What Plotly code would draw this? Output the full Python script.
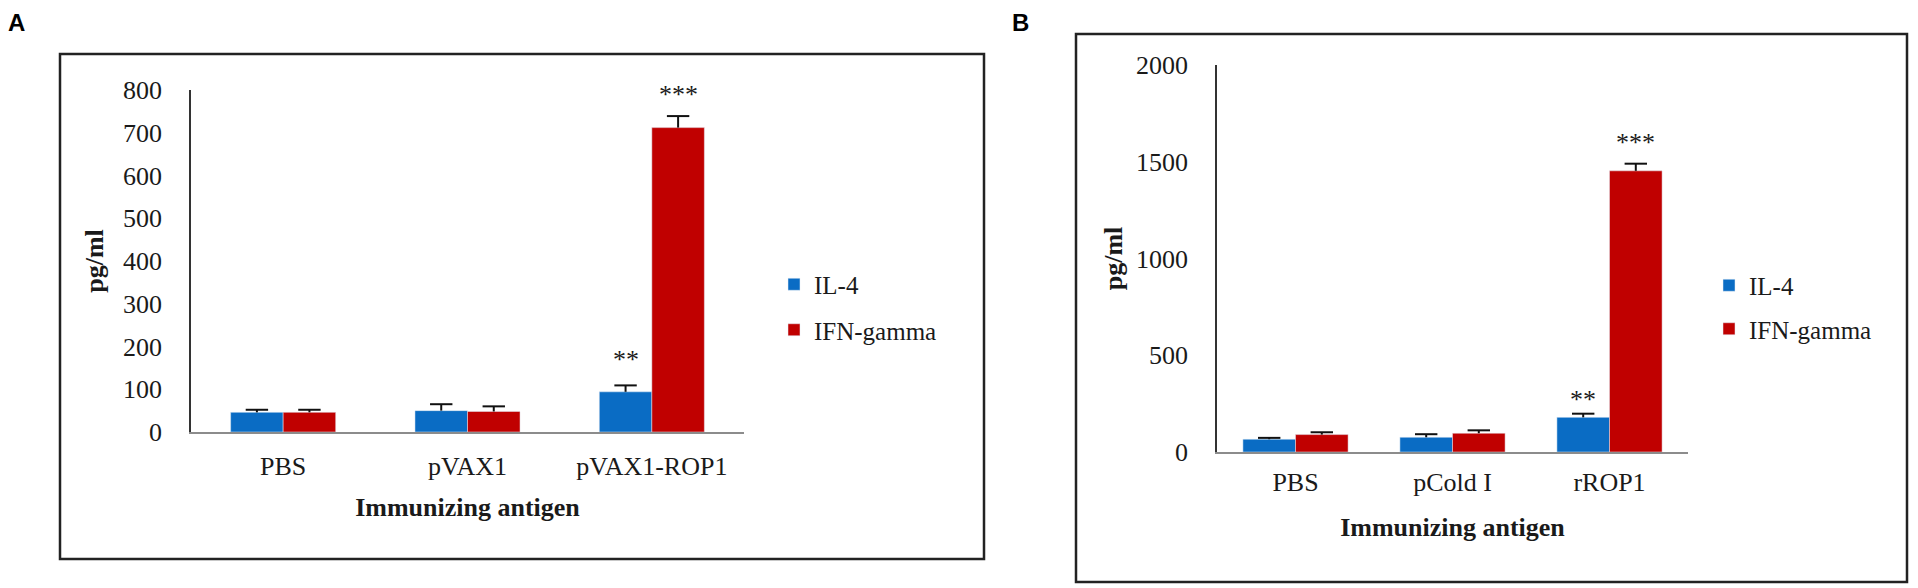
import plotly.graph_objects as go

W, H = 1918, 588
OFF = 8  # page margin of the browser around the figure

# panel A data (DNA vaccine)
cats_a = ['PBS', 'pVAX1', 'pVAX1-ROP1']
il4_a = [46, 50, 94]
il4_a_err = [6, 15, 15]
ifn_a = [46, 48, 712]
ifn_a_err = [6, 12, 27]
stars_a = ['', '', '**']
stars_a_ifn = ['', '', '***']

# panel B data (recombinant protein)
cats_b = ['PBS', 'pCold I', 'rROP1']
il4_b = [66, 76, 179]
il4_b_err = [7, 16, 19]
ifn_b = [90, 97, 1453]
ifn_b_err = [12, 15, 37]
stars_b = ['', '', '**']
stars_b_ifn = ['', '', '***']

blue = '#0a6cc4'
red = '#c00000'
serif = 'Liberation Serif'
txt = '#1a1a1a'


def px(x):
    return (x - OFF) / W


def py(y):
    return 1 - (y - OFF) / H


fig = go.Figure()

# bar widths per panel (fraction of category slot)
w_a = 0.285
w_b = 0.335

panels = [
    (cats_a, il4_a, il4_a_err, ifn_a, ifn_a_err, w_a, 'x', 'y', 'legend'),
    (cats_b, il4_b, il4_b_err, ifn_b, ifn_b_err, w_b, 'x2', 'y2', 'legend2'),
]
for cats, il4, il4e, ifn, ifne, w, xa, ya, lg in panels:
    pos = list(range(len(cats)))
    for vals, errs, name, col, off in [(il4, il4e, 'IL-4', blue, -w), (ifn, ifne, 'IFN-gamma', red, 0)]:
        # bar with upward-only error stem (no caps)
        fig.add_trace(go.Bar(x=pos, y=vals, name=name, marker_color=col, width=w, offset=off,
                             error_y=dict(type='data', array=errs, arrayminus=[0] * len(errs),
                                          symmetric=False, color='#111', thickness=2, width=0),
                             xaxis=xa, yaxis=ya, legend=lg, legendgroup=name + xa))
        # cap on top of the stem only
        fig.add_trace(go.Scatter(x=[p + off + w / 2 for p in pos],
                                 y=[v + e for v, e in zip(vals, errs)], mode='markers',
                                 marker=dict(symbol='line-ew', size=16, line=dict(color='#111', width=2)),
                                 xaxis=xa, yaxis=ya, showlegend=False, hoverinfo='skip'))

# significance stars above the error bars
annos = []
star_sets = [
    (stars_a, il4_a, il4_a_err, -w_a / 2, 'x', 'y', 9),
    (stars_a_ifn, ifn_a, ifn_a_err, w_a / 2, 'x', 'y', 5),
    (stars_b, il4_b, il4_b_err, -w_b / 2, 'x2', 'y2', -2),
    (stars_b_ifn, ifn_b, ifn_b_err, w_b / 2, 'x2', 'y2', 5),
]
for labels, vals, errs, off, xa, ya, shift in star_sets:
    for i, s in enumerate(labels):
        if s:
            annos.append(dict(x=i + off, y=vals[i] + errs[i], xref=xa, yref=ya, text=s,
                              showarrow=False, yanchor='bottom', yshift=shift,
                              font=dict(family=serif, size=26, color=txt)))

# panel letters
for letter, lx in [('A', 16), ('B', 1021)]:
    annos.append(dict(x=px(lx), y=1, xref='paper', yref='paper', text='<b>%s</b>' % letter,
                      showarrow=False, xanchor='center', yanchor='top', borderpad=0,
                      font=dict(family='Liberation Sans', size=24, color='#000')))

tickfont = dict(family=serif, size=26, color=txt)
legfont = dict(family=serif, size=25, color=txt)
titlefont = dict(family=serif, size=26, color=txt)

xcommon = dict(showline=True, linecolor='#8c8c8c', linewidth=2, ticks='', showgrid=False,
               tickfont=tickfont, zeroline=False, range=[-0.5, 2.5],
               tickvals=[0, 1, 2], automargin=False)
ycommon = dict(showline=True, linecolor='#333', linewidth=1.5, ticks='', showgrid=False,
               tickfont=tickfont, ticklabelstandoff=22, zeroline=False, automargin=False)

fig.update_layout(
    width=W, height=H,
    margin=dict(l=0, r=0, t=0, b=0),
    paper_bgcolor='white', plot_bgcolor='white',
    barmode='group',
    font=dict(family=serif, color=txt),
    xaxis=dict(domain=[px(191), px(744)], anchor='y', ticktext=cats_a, ticklabelstandoff=10,
               title=dict(text='<b>Immunizing antigen</b>', font=titlefont, standoff=18), **xcommon),
    yaxis=dict(domain=[py(432), py(90)], anchor='x', range=[0, 800], dtick=100,
               title=dict(text='<b>pg/ml</b>', font=titlefont, standoff=12), **ycommon),
    xaxis2=dict(domain=[px(1217), px(1688)], anchor='y2', ticktext=cats_b, ticklabelstandoff=6,
                title=dict(text='<b>Immunizing antigen</b>', font=titlefont, standoff=22), **xcommon),
    yaxis2=dict(domain=[py(452), py(65)], anchor='x2', range=[0, 2000], dtick=500,
                title=dict(text='<b>pg/ml</b>', font=titlefont, standoff=6), **ycommon),
    legend=dict(x=px(774), y=py(307), xanchor='left', yanchor='middle', font=legfont,
                tracegroupgap=10, bgcolor='rgba(0,0,0,0)', itemwidth=30),
    legend2=dict(x=px(1709), y=py(307), xanchor='left', yanchor='middle', font=legfont,
                 tracegroupgap=8, bgcolor='rgba(0,0,0,0)', itemwidth=30),
    annotations=annos,
    shapes=[
        dict(type='rect', xref='paper', yref='paper', x0=px(60), x1=px(984), y0=py(559), y1=py(54),
             line=dict(color='#222', width=2.5)),
        dict(type='rect', xref='paper', yref='paper', x0=px(1076), x1=px(1907), y0=py(582), y1=py(34),
             line=dict(color='#222', width=2.5)),
    ],
)

fig.write_html("out.html")
